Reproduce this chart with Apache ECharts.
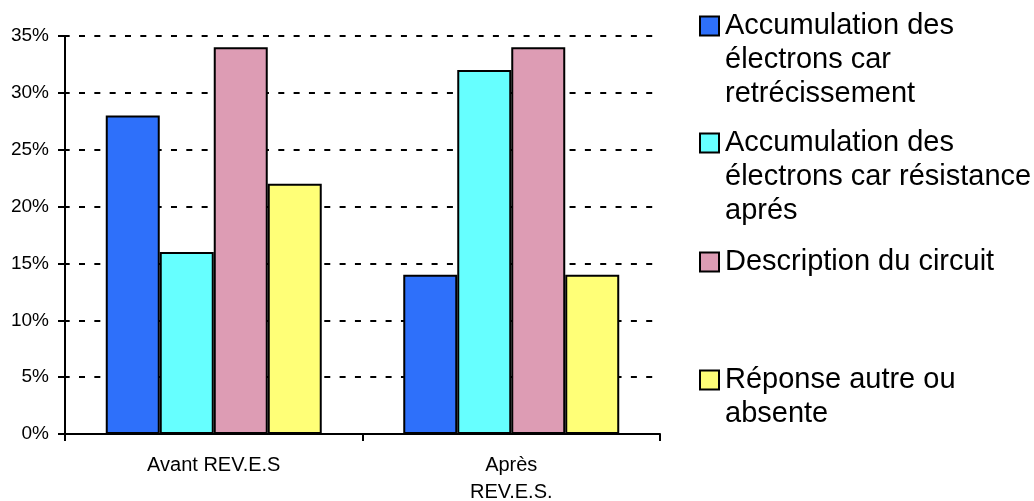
<!DOCTYPE html>
<html>
<head>
<meta charset="utf-8">
<script src="https://cdn.jsdelivr.net/npm/echarts@6/dist/echarts.min.js"></script>
<style>
html,body{margin:0;padding:0;background:#fff;}
#chart{width:1034px;height:501px;}
</style>
</head>
<body>
<div id="chart"></div>
<script>
// ---- data ----
const categories = ['Avant REV.E.S', 'Après\nREV.E.S.'];
const seriesNames = [
  'Accumulation des électrons car retrécissement',
  'Accumulation des électrons car résistance aprés',
  'Description du circuit',
  'Réponse autre ou absente'
];
const legendLines = [
  ['Accumulation des', 'électrons car', 'retrécissement'],
  ['Accumulation des', 'électrons car résistance', 'aprés'],
  ['Description du circuit'],
  ['Réponse autre ou', 'absente']
];
const retrecissement = [28, 14];
const resistance = [16, 32];
const description = [34, 34];
const autre = [22, 14];
const yTicks = [0, 5, 10, 15, 20, 25, 30, 35];

const values = [retrecissement, resistance, description, autre];
const colors = ['#2E70FA', '#66FFFF', '#DD9CB4', '#FFFF77'];
const markerCenters = [26, 143, 262, 380];
const LH = 34;
const font = 'Liberation Sans, Arial, Helvetica, sans-serif';

const chart = echarts.init(document.getElementById('chart'), null, {renderer: 'canvas'});

const legends = seriesNames.map((name, i) => {
  const n = legendLines[i].length;
  return {
    show: true,
    orient: 'vertical',
    left: 699,
    top: markerCenters[i] - (2 * n - 1) * (LH / 2),
    padding: 0,
    data: [name],
    icon: 'rect',
    itemWidth: 19,
    itemHeight: 19,
    itemGap: 0,
    selectedMode: false,
    itemStyle: {borderColor: '#000', borderWidth: 2},
    formatter: () => '\n'.repeat(n - 1) + legendLines[i].join('\n'),
    textStyle: {fontSize: 29, lineHeight: LH, color: '#000', fontFamily: font, padding: [0, 0, 0, 1]}
  };
});

const option = {
  animation: false,
  backgroundColor: '#fff',
  textStyle: {fontFamily: font},
  legend: legends,
  grid: {left: 65, right: 374, top: 36, bottom: 67, containLabel: false, outerBoundsMode: 'none'},
  xAxis: {
    type: 'category',
    data: categories,
    z: 5,
    axisLine: {lineStyle: {color: '#000', width: 2}},
    axisTick: {show: true, length: 7, lineStyle: {color: '#000', width: 2}},
    axisLabel: {color: '#000', fontSize: 20, lineHeight: 27, margin: 18, fontFamily: font}
  },
  yAxis: {
    type: 'value',
    min: yTicks[0],
    max: yTicks[yTicks.length - 1],
    interval: 5,
    axisLine: {show: true, lineStyle: {color: '#000', width: 2}},
    axisTick: {show: true, length: 7, lineStyle: {color: '#000', width: 2}},
    axisLabel: {color: '#000', fontSize: 19, margin: 16, formatter: '{value}%', fontFamily: font},
    splitLine: {show: true, showMinLine: false, lineStyle: {color: '#000', width: 2, type: [6, 9.33], dashOffset: 1.33}}
  },
  series: seriesNames.map((name, i) => ({
    name: name,
    type: 'bar',
    data: values[i],
    barGap: '0%',
    barCategoryGap: '27.4%',
    itemStyle: {color: colors[i], borderColor: '#000', borderWidth: 2},
    emphasis: {disabled: true}
  }))
};

chart.setOption(option);
</script>
</body>
</html>
